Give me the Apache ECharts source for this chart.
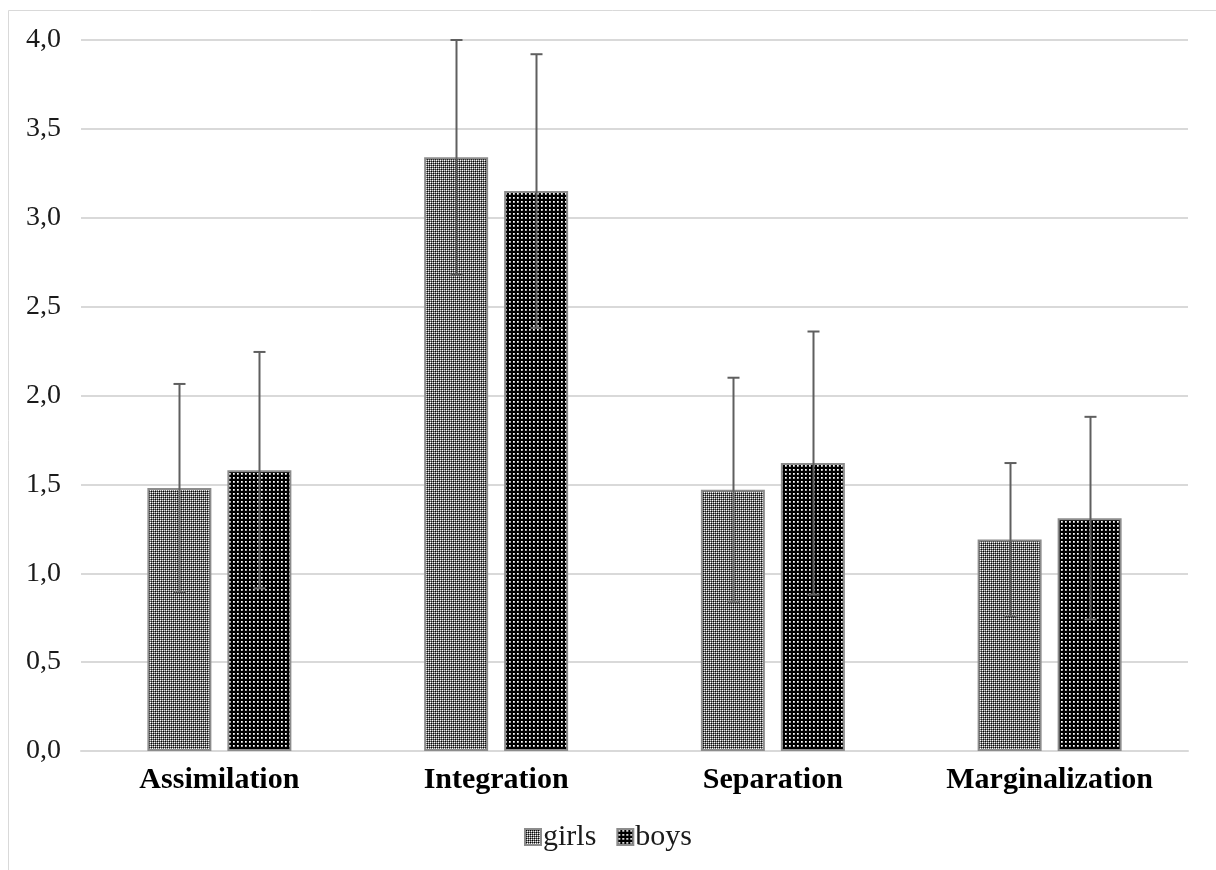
<!DOCTYPE html>
<html>
<head>
<meta charset="utf-8">
<script src="https://cdn.jsdelivr.net/npm/echarts@6/dist/echarts.min.js"></script>
<style>
html,body{margin:0;padding:0;background:#fff;}
#chart{width:1216px;height:870px;}
</style>
</head>
<body>
<div id="chart"></div>
<script>
const categories = ['Assimilation', 'Integration', 'Separation', 'Marginalization'];
const girlsMean = [1.48, 3.34, 1.47, 1.19];
const girlsSD = [0.585, 0.66, 0.63, 0.43];
const boysMean = [1.58, 3.15, 1.62, 1.31];
const boysSD = [0.665, 0.77, 0.74, 0.57];
const yTicks = { min: 0, max: 4, interval: 0.5 };

function makeTile(size, bg, pixels) {
  const c = document.createElement('canvas');
  c.width = size; c.height = size;
  const ctx = c.getContext('2d');
  ctx.fillStyle = bg;
  ctx.fillRect(0, 0, size, size);
  pixels.forEach(p => { ctx.fillStyle = p[2]; ctx.fillRect(p[0], p[1], 1, 1); });
  return c;
}
const girlsTile = makeTile(4, '#757575', [
  [0,0,'#ffffff'],[2,0,'#e0e0e0'],[0,2,'#e0e0e0'],[2,2,'#ffffff'],
  [1,1,'#000000'],[3,1,'#1a1a1a'],[1,3,'#1a1a1a'],[3,3,'#000000']
]);
const boysTile = makeTile(4, '#000000', [
  [1,1,'#ffffff'],[2,1,'#c0c0c0'],[1,2,'#c0c0c0'],[2,2,'#909090']
]);

const FONT = "'Liberation Serif', 'Times New Roman', serif";
const BAR_W = 64, GAP = 16;
const OFFSET = BAR_W / 2 + GAP / 2;

function errRender(offset) {
  return function (params, api) {
    const idx = api.value(0), m = api.value(1), sd = api.value(2);
    const top = api.coord([idx, m + sd]);
    const bot = api.coord([idx, m - sd]);
    const x = Math.round(top[0] + offset) + 0.5;
    const style = { stroke: '#5f5f5f', lineWidth: 2 };
    return {
      type: 'group',
      children: [
        { type: 'line', shape: { x1: x, y1: top[1], x2: x, y2: bot[1] }, style: style },
        { type: 'line', shape: { x1: x - 6, y1: top[1], x2: x + 6, y2: top[1] }, style: style },
        { type: 'line', shape: { x1: x - 6, y1: bot[1], x2: x + 6, y2: bot[1] }, style: style }
      ]
    };
  };
}

const chart = echarts.init(document.getElementById('chart'));
chart.setOption({
  animation: false,
  backgroundColor: '#ffffff',
  graphic: [{
    type: 'rect', silent: true, z: -10,
    shape: { x: 8.5, y: 10.5, width: 1400, height: 1000 },
    style: { fill: 'none', stroke: '#d9d9d9', lineWidth: 1 }
  }],
  grid: { left: 81, right: 28, top: 40, bottom: 119, containLabel: false },
  legend: {
    data: ['girls', 'boys'],
    icon: 'rect',
    bottom: 13,
    left: 'center',
    itemWidth: 16,
    itemHeight: 16,
    itemGap: 20,
    textStyle: { fontFamily: FONT, fontSize: 30, color: '#1a1a1a', padding: [0, 0, 0, -3] }
  },
  xAxis: {
    type: 'category',
    data: categories,
    axisTick: { show: false },
    axisLine: { lineStyle: { color: '#d9d9d9', width: 2 } },
    axisLabel: { fontFamily: FONT, fontSize: 30, fontWeight: 'bold', color: '#000000', margin: 14 }
  },
  yAxis: {
    type: 'value',
    min: yTicks.min, max: yTicks.max, interval: yTicks.interval,
    axisLine: { show: false },
    axisTick: { show: false },
    splitLine: { lineStyle: { color: '#d9d9d9', width: 2 } },
    axisLabel: {
      fontFamily: FONT, fontSize: 28, color: '#1a1a1a', margin: 20,
      formatter: v => v.toFixed(1).replace('.', ',')
    }
  },
  series: [
    {
      name: 'girls', type: 'bar', data: girlsMean,
      barWidth: BAR_W, barGap: (GAP / BAR_W * 100) + '%',
      itemStyle: { color: { image: girlsTile, repeat: 'repeat' }, borderColor: '#8c8c8c', borderWidth: 2 }
    },
    {
      name: 'boys', type: 'bar', data: boysMean,
      barWidth: BAR_W,
      itemStyle: { color: { image: boysTile, repeat: 'repeat' }, borderColor: '#8c8c8c', borderWidth: 2 }
    },
    {
      name: 'girlsErr', type: 'custom', z: 5,
      renderItem: errRender(-OFFSET),
      data: girlsMean.map((m, i) => [i, m, girlsSD[i]]),
      encode: { x: 0, y: 1 }
    },
    {
      name: 'boysErr', type: 'custom', z: 5,
      renderItem: errRender(OFFSET),
      data: boysMean.map((m, i) => [i, m, boysSD[i]]),
      encode: { x: 0, y: 1 }
    }
  ]
});
</script>
</body>
</html>
